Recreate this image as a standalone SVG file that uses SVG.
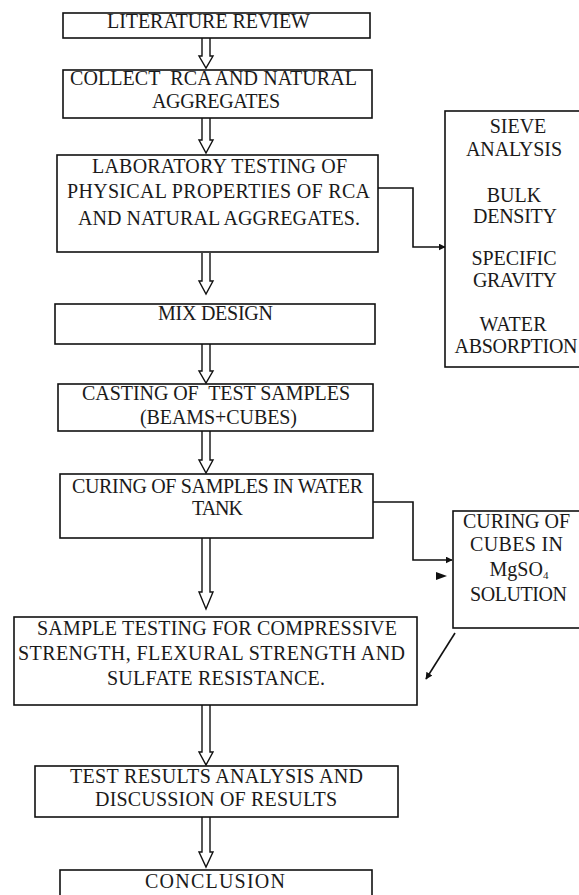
<svg xmlns="http://www.w3.org/2000/svg" width="579" height="895" viewBox="0 0 579 895">
<defs>
<style>
.box{fill:#fff;stroke:#111;stroke-width:1.6}
.t{font-family:"Liberation Serif","Times New Roman",serif;font-size:20px;fill:#1a1a1a;text-anchor:middle;white-space:pre}
.ha{fill:#fff;stroke:#111;stroke-width:1.4;stroke-linejoin:miter}
.ln{fill:none;stroke:#111;stroke-width:1.6}
</style>
<marker id="ah" viewBox="0 0 10 10" refX="9" refY="5" markerWidth="7" markerHeight="7" markerUnits="userSpaceOnUse" orient="auto">
<path d="M0,0 L10,5 L0,10 z" fill="#111"/>
</marker>
</defs>
<rect width="579" height="895" fill="#fff"/>

<g id="connectors">
<path class="ha" d="M202,38 V56 H199 L206,68 L213,56 H210 V38"/>
<path class="ha" d="M202,118 V140 H199 L206,153 L213,140 H210 V118"/>
<path class="ha" d="M202,253 V281 H199 L206,294 L213,281 H210 V253"/>
<path class="ha" d="M202,344 V371 H199 L206,383 L213,371 H210 V344"/>
<path class="ha" d="M202,431 V460 H199 L206,473 L213,460 H210 V431"/>
<path class="ha" d="M202,538 V592 H199 L206,609 L213,592 H210 V538"/>
<path class="ha" d="M202,705 V752 H199 L206,765 L213,752 H210 V705"/>
<path class="ha" d="M202,817 V852 H199 L206,867 L213,852 H210 V817"/>
<path class="ln" d="M378,188 H413 V247 H445" marker-end="url(#ah)"/>
<path class="ln" d="M373,502 H413 V560 H452" marker-end="url(#ah)"/>
<path d="M436,572 L447,576 L436,580 z" fill="#111"/>
<path class="ln" d="M455,633 L426,679" marker-end="url(#ah)"/>
</g>

<g id="n1"><rect class="box" x="63" y="13" width="307" height="25"/>
<text class="t" x="208.5" y="28" textLength="203">LITERATURE REVIEW</text></g>

<g id="n2"><rect class="box" x="63" y="70" width="309" height="48"/>
<text class="t" x="213.5" y="85" textLength="287">COLLECT  RCA AND NATURAL</text>
<text class="t" x="216" y="108" textLength="128">AGGREGATES</text></g>

<g id="n3"><rect class="box" x="57" y="155" width="321" height="97"/>
<text class="t" x="219.5" y="173" textLength="255">LABORATORY TESTING OF</text>
<text class="t" x="218.5" y="198" textLength="303">PHYSICAL PROPERTIES OF RCA</text>
<text class="t" x="219" y="225" textLength="282">AND NATURAL AGGREGATES.</text></g>

<g id="n4"><rect class="box" x="445" y="111" width="140" height="256"/>
<text class="t" x="518" y="133">SIEVE</text>
<text class="t" x="514" y="156" textLength="96">ANALYSIS</text>
<text class="t" x="514" y="202">BULK</text>
<text class="t" x="515" y="223" textLength="84">DENSITY</text>
<text class="t" x="514" y="265" textLength="85">SPECIFIC</text>
<text class="t" x="515" y="287" textLength="84">GRAVITY</text>
<text class="t" x="513" y="331" textLength="67">WATER</text>
<text class="t" x="516" y="353" textLength="123">ABSORPTION</text></g>

<g id="n5"><rect class="box" x="55" y="304" width="320" height="40"/>
<text class="t" x="215.5" y="320" textLength="115">MIX DESIGN</text></g>

<g id="n6"><rect class="box" x="58" y="384" width="315" height="47"/>
<text class="t" x="216" y="400" textLength="268">CASTING OF  TEST SAMPLES</text>
<text class="t" x="218.5" y="424" textLength="157">(BEAMS+CUBES)</text></g>

<g id="n7"><rect class="box" x="60" y="474" width="313" height="64"/>
<text class="t" x="217.5" y="493" textLength="291">CURING OF SAMPLES IN WATER</text>
<text class="t" x="217.5" y="515" textLength="51">TANK</text></g>

<g id="n8"><rect class="box" x="453" y="511" width="130" height="117"/>
<text class="t" x="516.5" y="528" textLength="107">CURING OF</text>
<text class="t" x="516.5" y="551" textLength="93">CUBES IN</text>
<text class="t" x="519" y="576">MgSO<tspan font-size="11" dy="3">4</tspan></text>
<text class="t" x="518.5" y="601" textLength="97">SOLUTION</text></g>

<g id="n9"><rect class="box" x="14" y="617" width="403" height="88"/>
<text class="t" x="217" y="635" textLength="360">SAMPLE TESTING FOR COMPRESSIVE</text>
<text class="t" x="211.5" y="660" textLength="387">STRENGTH, FLEXURAL STRENGTH AND</text>
<text class="t" x="216" y="685" textLength="218">SULFATE RESISTANCE.</text></g>

<g id="n10"><rect class="box" x="35" y="766" width="363" height="51"/>
<text class="t" x="216.5" y="783" textLength="293">TEST RESULTS ANALYSIS AND</text>
<text class="t" x="216" y="806" textLength="242">DISCUSSION OF RESULTS</text></g>

<g id="n11"><rect class="box" x="60" y="870" width="312" height="40"/>
<text class="t" x="215" y="888" textLength="140">CONCLUSION</text></g>
</svg>
